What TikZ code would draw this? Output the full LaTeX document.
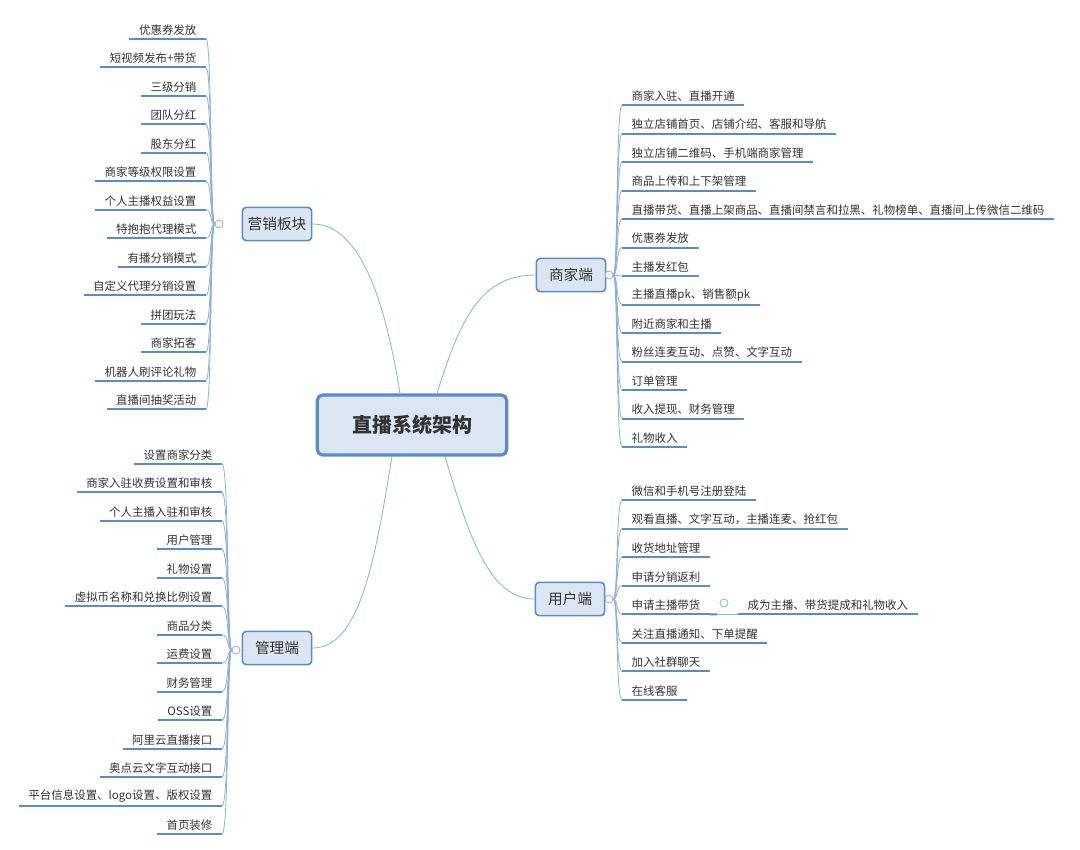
\documentclass[tikz,border=0pt]{standalone}
\usepackage{fontspec}
\setmainfont{Noto Sans CJK SC}
\usetikzlibrary{positioning}
\definecolor{mapline}{HTML}{5B8BCB}
\definecolor{mapspine}{HTML}{8FAEDB}
\definecolor{mapfill}{HTML}{DCE6F3}
\definecolor{maptext}{HTML}{333333}
\tikzset{
  rootbox/.style={draw=mapline, line width=2.4pt, fill=mapfill, rounded corners=4pt,
    minimum width=142pt, minimum height=45pt, font=\fontsize{15}{15}\selectfont\bfseries, text=maptext},
  branchbox/.style={draw=mapline, line width=1.2pt, fill=mapfill, rounded corners=3pt,
    minimum width=52pt, minimum height=25pt, font=\fontsize{11}{11}\selectfont, text=maptext},
  leaf/.style={inner xsep=7pt, inner ysep=2.5pt, font=\fontsize{8.6}{8.6}\selectfont, text=maptext},
  uline/.style={draw=mapline, line width=1.5pt},
  spine/.style={draw=mapspine, line width=0.6pt},
  hub/.style={circle, draw=mapspine, fill=white, line width=0.6pt, inner sep=0pt, minimum size=6pt},
}
\begin{document}
\begin{tikzpicture}[x=0.75pt,y=-0.75pt]
  \useasboundingbox[fill=white] (0,0) rectangle (1080,849);

  % root and branches
  \node[rootbox] (root) at (412,425) {直播系统架构};
  \node[branchbox] (mkt) at (277,224) {营销板块};
  \node[branchbox] (shop) at (571,275) {商家端};
  \node[branchbox] (user) at (570,599) {用户端};
  \node[branchbox] (admin) at (277,648) {管理端};

  \draw[spine] (root.north) ++(-12,0) .. controls (385,300) and (360,224) .. (mkt.east);
  \draw[spine] (root.north) ++(25,0) .. controls (460,320) and (480,275) .. (shop.west);
  \draw[spine] (root.south) ++(33,0) .. controls (470,540) and (490,599) .. (user.west);
  \draw[spine] (root.south) ++(-20,0) .. controls (375,560) and (360,648) .. (admin.east);

  \node[hub] (mkthub) at (219,224) {};
  \node[hub] (shophub) at (609,275) {};
  \node[hub] (userhub) at (609,599) {};
  \node[hub] (adminhub) at (236,650) {};

  % marketing
  \foreach \t [count=\i] in {{优惠券发放},{短视频发布+带货},{三级分销},{团队分红},{股东分红},
      {商家等级权限设置},{个人主播权益设置},{特抱抱代理模式},{有播分销模式},{自定义代理分销设置},
      {拼团玩法},{商家拓客},{机器人刷评论礼物},{直播间抽奖活动}} {
    \node[leaf, anchor=south east] (mk\i) at (206,{39+(\i-1)*28.46}) {\t};
    \draw[uline] (mk\i.south west) -- (mk\i.south east);
    \draw[spine] (mkthub.west) .. controls (210,224) and (212,{39+(\i-1)*28.46}) .. (mk\i.south east);
  }

  % merchant
  \foreach \t [count=\i] in {{商家入驻、直播开通},{独立店铺首页、店铺介绍、客服和导航},
      {独立店铺二维码、手机端商家管理},{商品上传和上下架管理},
      {直播带货、直播上架商品、直播间禁言和拉黑、礼物榜单、直播间上传微信二维码},
      {优惠券发放},{主播发红包},{主播直播pk、销售额pk},{附近商家和主播},
      {粉丝连麦互动、点赞、文字互动},{订单管理},{收入提现、财务管理},{礼物收入}} {
    \node[leaf, anchor=south west] (sh\i) at (622,{105+(\i-1)*28.5}) {\t};
    \draw[uline] (sh\i.south west) -- (sh\i.south east);
    \draw[spine] (shophub.east) .. controls (618,275) and (616,{105+(\i-1)*28.5}) .. (sh\i.south west);
  }

  % user
  \foreach \t [count=\i] in {{微信和手机号注册登陆},{观看直播、文字互动，主播连麦、抢红包},
      {收货地址管理},{申请分销返利},{申请主播带货},{关注直播通知、下单提醒},
      {加入社群聊天},{在线客服}} {
    \node[leaf, anchor=south west] (us\i) at (622,{500+(\i-1)*28.57}) {\t};
    \draw[uline] (us\i.south west) -- (us\i.south east);
    \draw[spine] (userhub.east) .. controls (618,599) and (616,{500+(\i-1)*28.57}) .. (us\i.south west);
  }
  \node[hub] (us5hub) at (724,603) {};
  \node[leaf, anchor=south west] (us5a) at (738,614.3) {成为主播、带货提成和礼物收入};
  \draw[uline] (us5.south east) -- (717,614.3);
  \draw[spine] (717,614.3) -- (us5a.south west);
  \draw[uline] (us5a.south west) -- (us5a.south east);

  % admin
  \foreach \t [count=\i] in {{设置商家分类},{商家入驻收费设置和审核},{个人主播入驻和审核},
      {用户管理},{礼物设置},{虚拟币名称和兑换比例设置},{商品分类},{运费设置},{财务管理},
      {OSS设置},{阿里云直播接口},{奥点云文字互动接口},{平台信息设置、logo设置、版权设置},
      {首页装修}} {
    \node[leaf, anchor=south east] (ad\i) at (222,{464+(\i-1)*28.46}) {\t};
    \draw[uline] (ad\i.south west) -- (ad\i.south east);
    \draw[spine] (adminhub.west) .. controls (227,650) and (229,{464+(\i-1)*28.46}) .. (ad\i.south east);
  }
\end{tikzpicture}
\end{document}
